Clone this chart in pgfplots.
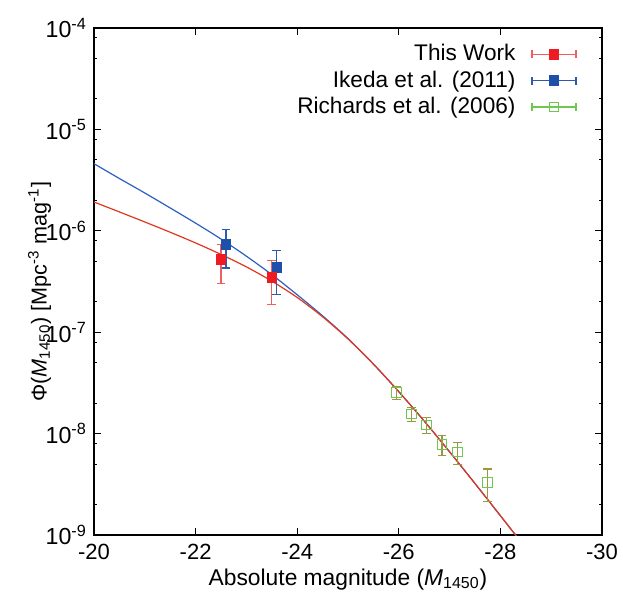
\documentclass[border=0pt]{standalone}
\usepackage{fontspec}
\setmainfont{Liberation Sans}
\usepackage{pgfplots}
\pgfplotsset{compat=1.18}
\definecolor{curvered}{RGB}{225,55,30}
\definecolor{curveblue}{RGB}{45,95,190}
\definecolor{markred}{RGB}{237,28,36}
\definecolor{errred}{RGB}{238,95,95}
\definecolor{markblue}{RGB}{30,80,170}
\definecolor{errblue}{RGB}{45,90,175}
\definecolor{markgreen}{RGB}{110,200,80}
\definecolor{errgreen}{RGB}{155,150,65}
\pgfplotsset{errleg/.style={legend image code/.code={
  \draw[##1, line width=0.6pt] (0pt,-2pt)--(0pt,2pt) (0pt,0pt)--(22pt,0pt) (22pt,-2pt)--(22pt,2pt);
  \draw[##1] plot coordinates {(11pt,0pt)};}}}
\begin{document}
\begin{tikzpicture}
\useasboundingbox (-47pt,-29pt) rectangle (264.5pt,267.5pt);
\begin{axis}[
  scale only axis, width=254pt, height=253.5pt,
  at={(0,0)}, anchor=south west,
  xmin=-30, xmax=-20, x dir=reverse,
  ymode=log, ymin=1e-9, ymax=1e-4,
  xtick={-20,-22,-24,-26,-28,-30},
  xticklabels={-20,-22,-24,-26,-28,-30},
  minor xtick={},
  ytick={1e-9,1e-8,1e-7,1e-6,1e-5,1e-4},
  yticklabels={10\textsuperscript{-9},10\textsuperscript{-8},10\textsuperscript{-7},10\textsuperscript{-6},10\textsuperscript{-5},10\textsuperscript{-4}},
  minor ytick={2e-9,5e-9,8e-9,2e-8,5e-8,8e-8,2e-7,5e-7,8e-7,2e-6,5e-6,8e-6,2e-5,5e-5,8e-5},
  tick align=inside, major tick length=3.3pt, minor tick length=1.7pt,
  every tick/.style={black, line width=0.5pt},
  axis line style={line width=0.8pt},
  xticklabel style={font=\fontsize{11}{13}\selectfont, yshift=-0.8pt},
  yticklabel style={font=\fontsize{11.6}{13}\selectfont},
  every axis x label/.style={at={(axis description cs:0.5,-0.087)}, anchor=center, font=\fontsize{11.4}{13.5}\selectfont},
  every axis y label/.style={at={(axis description cs:-0.107,0.48)}, rotate=90, anchor=center, font=\fontsize{10.8}{13}\selectfont},
  xlabel={Absolute magnitude (\textit{M}\textsubscript{1450})},
  ylabel={Φ(\textit{M}\textsubscript{1450}) [Mpc\textsuperscript{-3} mag\textsuperscript{-1}]},
  legend plot pos=right,
  legend cell align=right,
  legend style={draw=none, fill=none, at={(axis description cs:0.951,0.976)}, anchor=north east,
    font=\fontsize{11.3}{13}\selectfont, column sep=6pt, row sep=-0.5pt, inner sep=0pt},
]
\addlegendimage{errleg, draw=errred, mark=square*, mark size=2.4pt, mark options={draw=markred, fill=markred}}
\addlegendentry{This Work}
\addlegendimage{errleg, draw=errblue, mark=square*, mark size=2.4pt, mark options={draw=markblue, fill=markblue}}
\addlegendentry{Ikeda et al. (2011)}
\addlegendimage{errleg, draw=markgreen, mark=square, mark size=2.4pt, mark options={draw=markgreen, fill=none, line width=0.5pt}}
\addlegendentry{Richards et al. (2006)}

% Ikeda et al. (2011) fit
\addplot[curveblue, line width=0.6pt, smooth, no markers, forget plot] coordinates {
(-20,4.59e-6) (-20.5,3.28e-6) (-21,2.36e-6) (-21.5,1.68e-6) (-22,1.19e-6)
(-22.5,8.30e-7) (-23,5.62e-7) (-23.5,3.70e-7) (-24,2.34e-7) (-24.5,1.45e-7)
(-25,8.65e-8) (-25.5,4.85e-8) (-26,2.59e-8) (-26.5,1.33e-8) (-27,6.61e-9)
(-27.5,3.22e-9) (-28,1.55e-9) (-28.5,7.43e-10)};
% This work fit
\addplot[curvered, line width=0.6pt, smooth, no markers, forget plot] coordinates {
(-20,1.923e-6) (-20.5,1.535e-6) (-21,1.222e-6) (-21.5,9.68e-7) (-22,7.59e-7)
(-22.5,5.85e-7) (-23,4.41e-7) (-23.5,3.19e-7) (-24,2.20e-7) (-24.5,1.42e-7)
(-25,8.59e-8) (-25.5,4.85e-8) (-26,2.59e-8) (-26.5,1.33e-8) (-27,6.61e-9)
(-27.5,3.22e-9) (-28,1.55e-9) (-28.5,7.43e-10)};

% Richards et al. (2006)
\addplot[only marks, mark=square, mark size=2.4pt, mark options={draw=markgreen, fill=none, line width=0.5pt}, forget plot,
  error bars/.cd, y dir=both, y explicit,
  error bar style={color=errgreen, line width=0.6pt},
  error mark options={rotate=90, color=errgreen, mark size=2.2pt, line width=0.6pt}]
coordinates {
(-25.95,2.55e-8) +- (0,0.38e-8)
(-26.25,1.56e-8) +- (0,0.25e-8)
(-26.55,1.22e-8) +- (0,0.22e-8)
(-26.85,7.78e-9) +- (0,1.75e-9)
(-27.15,6.59e-9) +- (0,1.63e-9)
(-27.75,3.30e-9) +- (0,1.17e-9)};

% Ikeda et al. (2011) points
\addplot[only marks, mark=square*, mark size=2.4pt, mark options={draw=markblue, fill=markblue}, forget plot,
  error bars/.cd, y dir=both, y explicit,
  error bar style={color=errblue, line width=0.6pt},
  error mark options={rotate=90, color=errblue, mark size=2.2pt, line width=0.6pt}]
coordinates {
(-22.6,7.30e-7) +- (0,3.0e-7)
(-23.6,4.35e-7) +- (0,2.0e-7)};

% This work points
\addplot[only marks, mark=square*, mark size=2.4pt, mark options={draw=markred, fill=markred}, forget plot,
  error bars/.cd, y dir=both, y explicit,
  error bar style={color=errred, line width=0.6pt},
  error mark options={rotate=90, color=errred, mark size=2.2pt, line width=0.6pt}]
coordinates {
(-22.5,5.19e-7) +- (0,2.15e-7)
(-23.5,3.47e-7) +- (0,1.6e-7)};
\end{axis}
\end{tikzpicture}
\end{document}
